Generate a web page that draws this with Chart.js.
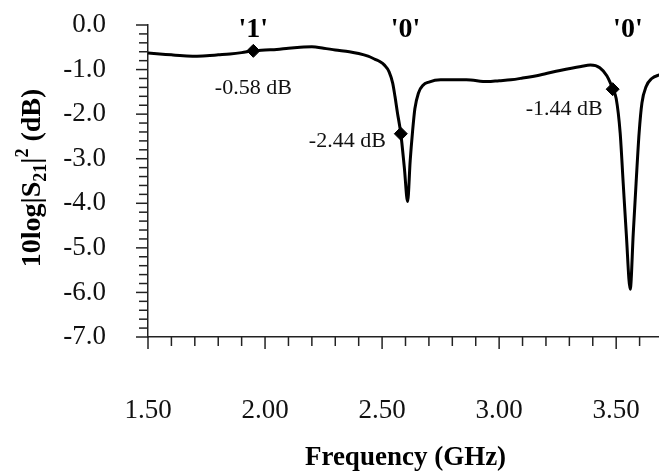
<!DOCTYPE html>
<html>
<head>
<meta charset="utf-8">
<script src="https://cdn.jsdelivr.net/npm/chart.js@4.4.1/dist/chart.umd.min.js"></script>
<style>
  html, body { margin: 0; padding: 0; background: #fff; overflow: hidden; width: 659px; height: 472px; }
  #wrap { width: 663px; height: 472px; position: relative; }
</style>
</head>
<body>
<div id="wrap"><canvas id="c"></canvas></div>
<script>
// Measured transmission |S21|^2 versus frequency
const freqGHz = [
  1.50, 1.55, 1.60, 1.65, 1.70, 1.75, 1.80, 1.85, 1.90, 1.95,
  2.00, 2.05, 2.10, 2.15, 2.20, 2.25, 2.30, 2.36, 2.40, 2.44,
  2.47, 2.49, 2.51, 2.53, 2.545, 2.555, 2.565, 2.58, 2.595, 2.609,
  2.62, 2.63, 2.64, 2.655, 2.675, 2.70, 2.75, 2.80, 2.86, 2.95,
  3.00, 3.05, 3.10, 3.175, 3.26, 3.35, 3.39, 3.43, 3.46, 3.475,
  3.485, 3.50, 3.517, 3.53, 3.543, 3.56, 3.573, 3.585, 3.598, 3.61,
  3.628, 3.652, 3.684, 3.70
];
const s21dB = [
  -0.63, -0.65, -0.67, -0.69, -0.70, -0.69, -0.67, -0.65, -0.62, -0.58,
  -0.56, -0.55, -0.52, -0.50, -0.49, -0.52, -0.56, -0.60, -0.64, -0.70,
  -0.77, -0.82, -0.90, -1.05, -1.30, -1.60, -1.95, -2.44, -3.20, -3.96,
  -3.05, -2.40, -1.88, -1.53, -1.35, -1.28, -1.23, -1.23, -1.23, -1.27,
  -1.25, -1.23, -1.19, -1.12, -1.02, -0.93, -0.90, -0.96, -1.14, -1.30,
  -1.44, -1.65, -2.42, -3.55, -4.67, -5.93, -4.67, -3.55, -2.42, -1.75,
  -1.38, -1.20, -1.12, -1.10
];

// Marked operating points and their read-out values
const markerFreq = [1.95, 2.58, 3.485];
const markerDb = [-0.58, -2.44, -1.44];

// Logic state of each band
const bitFreq = [1.95, 2.60, 3.55];
const bitLabels = ["'1'", "'0'", "'0'"];

// Axis ranges and tick steps
const xRange = [1.5, 3.7];
const xStep = 0.1;
const yRange = [-7, 0];
const yStep = 0.2;

const xTitle = 'Frequency (GHz)';
const yTitleParts = [
  { t: '10log|S', sub: 0 },
  { t: '21', sub: 1 },
  { t: '|', sub: 0 },
  { t: '2', sub: -1 },
  { t: ' (dB)', sub: 0 }
];

const SERIF = '"Liberation Serif", "Times New Roman", serif';
const INK = '#111';

// Placement of value read-outs relative to their marker (pixels)
const readoutOffset = [
  { dx: 0, dy: 37, align: 'center' },
  { dx: -15, dy: 7, align: 'right' },
  { dx: -10, dy: 20, align: 'right' }
];

const isMajorX = v => Math.abs(Math.round(v * 10) % 5) === 0;
const isMajorY = v => Math.abs(v - Math.round(v)) < 1e-6;

// keep the plot box fixed: no extra room reserved for edge labels
function fixBox(size, key) {
  return s => {
    s[key] = size;
    s.paddingLeft = 0; s.paddingRight = 0; s.paddingTop = 0; s.paddingBottom = 0;
  };
}

const decor = {
  id: 'decor',
  afterDraw(chart) {
    const { ctx, chartArea, scales: { x, y } } = chart;
    ctx.save();
    ctx.strokeStyle = '#222';
    ctx.lineWidth = 1.5;
    // tick marks: longer at labelled values
    x.ticks.forEach(t => {
      const px = x.getPixelForValue(t.value);
      const len = isMajorX(t.value) ? 12 : 9;
      ctx.beginPath();
      ctx.moveTo(px, chartArea.bottom);
      ctx.lineTo(px, chartArea.bottom + len);
      ctx.stroke();
    });
    y.ticks.forEach(t => {
      const py = y.getPixelForValue(t.value);
      const len = isMajorY(t.value) ? 12 : 9;
      ctx.beginPath();
      ctx.moveTo(chartArea.left, py);
      ctx.lineTo(chartArea.left - len, py);
      ctx.stroke();
    });

    ctx.fillStyle = '#000';
    // bit state labels
    ctx.font = 'bold 28px ' + SERIF;
    ctx.textAlign = 'center';
    ctx.textBaseline = 'middle';
    bitFreq.forEach((f, i) => {
      ctx.fillText(bitLabels[i], x.getPixelForValue(f), chartArea.top + 5);
    });

    // value read-outs
    ctx.font = '22px ' + SERIF;
    ctx.fillStyle = INK;
    markerFreq.forEach((f, i) => {
      const o = readoutOffset[i];
      ctx.textAlign = o.align;
      ctx.fillText(markerDb[i].toFixed(2) + ' dB',
        x.getPixelForValue(f) + o.dx, y.getPixelForValue(markerDb[i]) + o.dy);
    });

    // rotated y-axis title with subscript and superscript
    const main = 'bold 28px ' + SERIF;
    const small = 'bold 18px ' + SERIF;
    const widths = yTitleParts.map(p => { ctx.font = p.sub ? small : main; return ctx.measureText(p.t).width; });
    const total = widths.reduce((a, b) => a + b, 0);
    ctx.translate(30, (chartArea.top + chartArea.bottom) / 2 - 3);
    ctx.rotate(-Math.PI / 2);
    ctx.textAlign = 'left';
    ctx.textBaseline = 'alphabetic';
    ctx.fillStyle = '#000';
    let cx = -total / 2;
    yTitleParts.forEach((p, i) => {
      ctx.font = p.sub ? small : main;
      const dy = p.sub === 1 ? 6 : (p.sub === -1 ? -12 : 0);
      ctx.fillText(p.t, cx, 10 + dy);
      cx += widths[i];
    });
    ctx.restore();
  }
};

new Chart(document.getElementById('c'), {
  type: 'scatter',
  data: {
    datasets: [
      {
        data: markerFreq.map((f, i) => ({ x: f, y: markerDb[i] })),
        showLine: false,
        pointStyle: 'rectRot',
        pointRadius: 6.5,
        backgroundColor: '#000',
        borderColor: '#000',
        borderWidth: 1
      },
      {
        data: freqGHz.map((f, i) => ({ x: f, y: s21dB[i] })),
        showLine: true,
        borderColor: '#000',
        borderWidth: 3,
        pointRadius: 0,
        cubicInterpolationMode: 'monotone',
        fill: false
      }
    ]
  },
  options: {
    responsive: true,
    maintainAspectRatio: false,
    animation: false,
    events: [],
    layout: { autoPadding: false, padding: { top: 25, left: 0, right: 0, bottom: 0 } },
    plugins: { legend: { display: false }, tooltip: { enabled: false } },
    scales: {
      x: {
        type: 'linear',
        min: xRange[0],
        max: xRange[1],
        afterFit: fixBox(135, 'height'),
        grid: { drawOnChartArea: false, drawTicks: false },
        border: { display: true, color: '#222', width: 1.5 },
        ticks: {
          stepSize: xStep,
          autoSkip: false,
          maxRotation: 0,
          padding: 58,
          color: INK,
          font: { family: SERIF, size: 27 },
          callback: v => isMajorX(v) ? Number(v).toFixed(2) : ''
        },
        title: {
          display: true,
          text: xTitle,
          color: '#000',
          font: { family: SERIF, size: 27, weight: 'bold', lineHeight: 1 },
          padding: { top: 0, bottom: 0 }
        }
      },
      y: {
        min: yRange[0],
        max: yRange[1],
        afterFit: fixBox(148, 'width'),
        grid: { drawOnChartArea: false, drawTicks: false },
        border: { display: true, color: '#222', width: 1.5 },
        ticks: {
          stepSize: yStep,
          autoSkip: false,
          padding: 42,
          color: INK,
          font: { family: SERIF, size: 27 },
          callback: v => isMajorY(v) ? (Math.round(v) === 0 ? '0.0' : Number(v).toFixed(1)) : ''
        }
      }
    }
  },
  plugins: [decor]
});
</script>
</body>
</html>
